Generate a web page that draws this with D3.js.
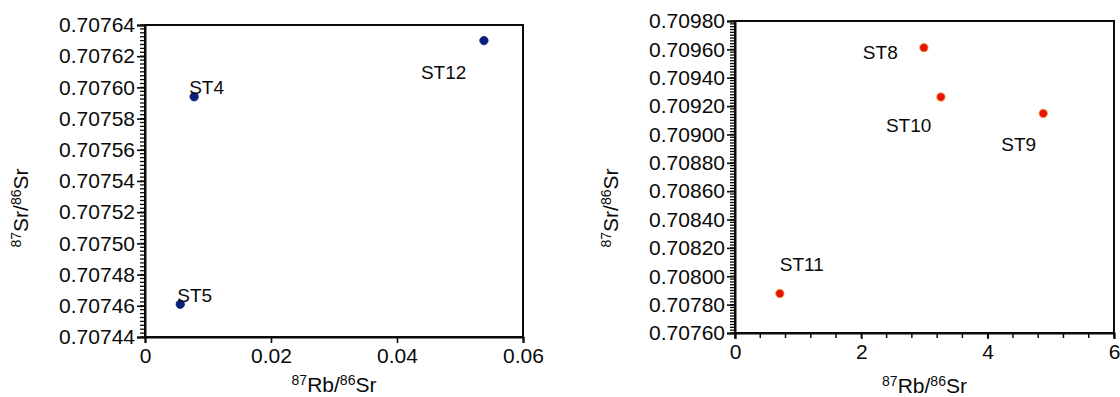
<!DOCTYPE html>
<html>
<head>
<meta charset="utf-8">
<script src="https://cdn.jsdelivr.net/npm/d3@7"></script>
<style>
  body { margin: 0; background: #fff; }
  svg { display: block; font-family: "Liberation Sans", Arial, sans-serif; }
</style>
</head>
<body>
<svg width="1120" height="397"></svg>
<script>
// left panel: low Rb samples
const leftNames = ['ST4', 'ST5', 'ST12'];
const leftRb = [0.0078, 0.0056, 0.0538];
const leftSr = [0.707594, 0.707461, 0.707630];
const leftXTicks = [0, 0.02, 0.04, 0.06];
const leftYTicks = [0.70744, 0.70746, 0.70748, 0.70750, 0.70752, 0.70754, 0.70756, 0.70758, 0.70760, 0.70762, 0.70764];

// right panel
const rightNames = ['ST8', 'ST10', 'ST9', 'ST11'];
const rightRb = [2.99, 3.26, 4.88, 0.71];
const rightSr = [0.709612, 0.709264, 0.709148, 0.707878];
const rightXTicks = [0, 2, 4, 6];
const rightYTicks = [0.70760, 0.70780, 0.70800, 0.70820, 0.70840, 0.70860, 0.70880, 0.70900, 0.70920, 0.70940, 0.70960, 0.70980];

const svg = d3.select('svg');
const ink = '#0a0a0a';

function ratioLabel(sel, a, b, c, d) {
  sel.append('tspan').text(a).attr('font-size', 14).attr('dy', -7);
  sel.append('tspan').text(b).attr('dy', 7);
  sel.append('tspan').text(c).attr('font-size', 14).attr('dy', -7);
  sel.append('tspan').text(d).attr('dy', 7);
}

function drawPanel(opt) {
  const { x0, y0, w, h, xDomain, yDomain, xTicks, yTicks, xMinor, yMinor, names, xs, ys, color, stroke, labels } = opt;
  const g = svg.append('g').attr('transform', `translate(${x0},${y0})`);

  const xScale = d3.scaleLinear().domain(xDomain).range([0, w]);
  const yScale = d3.scaleLinear().domain(yDomain).range([h, 0]);

  // frame
  g.append('rect')
    .attr('width', w).attr('height', h)
    .attr('fill', 'none').attr('stroke', ink).attr('stroke-width', 2);

  // minor ticks
  if (yMinor) {
    const n = Math.round((yDomain[1] - yDomain[0]) / yMinor);
    g.append('g').selectAll('line')
      .data(d3.range(n + 1).map(i => yDomain[0] + i * yMinor))
      .enter().append('line')
      .attr('x1', -5).attr('x2', 0)
      .attr('y1', d => yScale(d)).attr('y2', d => yScale(d))
      .attr('stroke', ink).attr('stroke-width', 1.3);
  }
  if (xMinor) {
    const n = Math.round((xDomain[1] - xDomain[0]) / xMinor);
    g.append('g').selectAll('line')
      .data(d3.range(n + 1).map(i => xDomain[0] + i * xMinor))
      .enter().append('line')
      .attr('y1', h).attr('y2', h + 5)
      .attr('x1', d => xScale(d)).attr('x2', d => xScale(d))
      .attr('stroke', ink).attr('stroke-width', 1.5);
  }

  const xAxis = d3.axisBottom(xScale).tickValues(xTicks).tickSize(6).tickPadding(5)
    .tickFormat(d => String(d));
  const xG = g.append('g').attr('transform', `translate(0,${h})`).call(xAxis);
  xG.select('.domain').attr('stroke', ink).attr('stroke-width', 2);
  xG.selectAll('line').attr('stroke', ink).attr('stroke-width', 1.6);
  xG.selectAll('text').attr('font-size', 21).attr('fill', ink)
    .attr('font-family', '"Liberation Sans", Arial, sans-serif');

  const yAxis = d3.axisLeft(yScale).tickValues(yTicks).tickSize(8).tickPadding(2)
    .tickFormat(d3.format('.5f'));
  const yG = g.append('g').call(yAxis);
  yG.select('.domain').attr('stroke', ink).attr('stroke-width', 2);
  yG.selectAll('line').attr('stroke', ink).attr('stroke-width', 1.6);
  yG.selectAll('text').attr('font-size', 21).attr('fill', ink)
    .attr('font-family', '"Liberation Sans", Arial, sans-serif');

  // points
  g.append('g').selectAll('circle')
    .data(names)
    .enter().append('circle')
    .attr('cx', (d, i) => xScale(xs[i]))
    .attr('cy', (d, i) => yScale(ys[i]))
    .attr('r', 4.2)
    .attr('fill', color)
    .attr('stroke', stroke).attr('stroke-width', 0.8);

  // labels
  g.append('g').selectAll('text')
    .data(names)
    .enter().append('text')
    .text(d => d)
    .attr('x', (d, i) => xScale(xs[i]) + labels[i][0])
    .attr('y', (d, i) => yScale(ys[i]) + labels[i][1])
    .attr('font-size', 19).attr('fill', ink);

  // axis titles
  const xt = g.append('text')
    .attr('x', w / 2).attr('y', opt.xTitleY)
    .attr('text-anchor', 'middle').attr('font-size', 21).attr('fill', ink);
  ratioLabel(xt, '87', 'Rb/', '86', 'Sr');

  const yt = g.append('text')
    .attr('transform', `translate(${opt.yTitleX},${opt.yTitleCY})rotate(-90)`)
    .attr('text-anchor', 'middle').attr('font-size', 21).attr('fill', ink);
  ratioLabel(yt, '87', 'Sr/', '86', 'Sr');
}

drawPanel({
  x0: 145, y0: 25, w: 378, h: 312,
  xDomain: [0, 0.06], yDomain: [0.70744, 0.70764],
  xTicks: leftXTicks, yTicks: leftYTicks,
  xMinor: null, yMinor: 0.0000025,
  names: leftNames, xs: leftRb, ys: leftSr,
  color: '#0b1f7c', stroke: '#0b1f7c',
  labels: [[-5, -3], [-3, -2], [-63, 38]],
  xTitleY: 367, yTitleX: -117, yTitleCY: 183
});

drawPanel({
  x0: 735, y0: 21, w: 379, h: 312,
  xDomain: [0, 6], yDomain: [0.70760, 0.70980],
  xTicks: rightXTicks, yTicks: rightYTicks,
  xMinor: 0.4, yMinor: 0.00002,
  names: rightNames, xs: rightRb, ys: rightSr,
  color: '#e8140c', stroke: '#f3a020',
  labels: [[-61, 11], [-55, 35], [-42, 38], [0, -23]],
  xTitleY: 372, yTitleX: -117, yTitleCY: 187
});
</script>
</body>
</html>
